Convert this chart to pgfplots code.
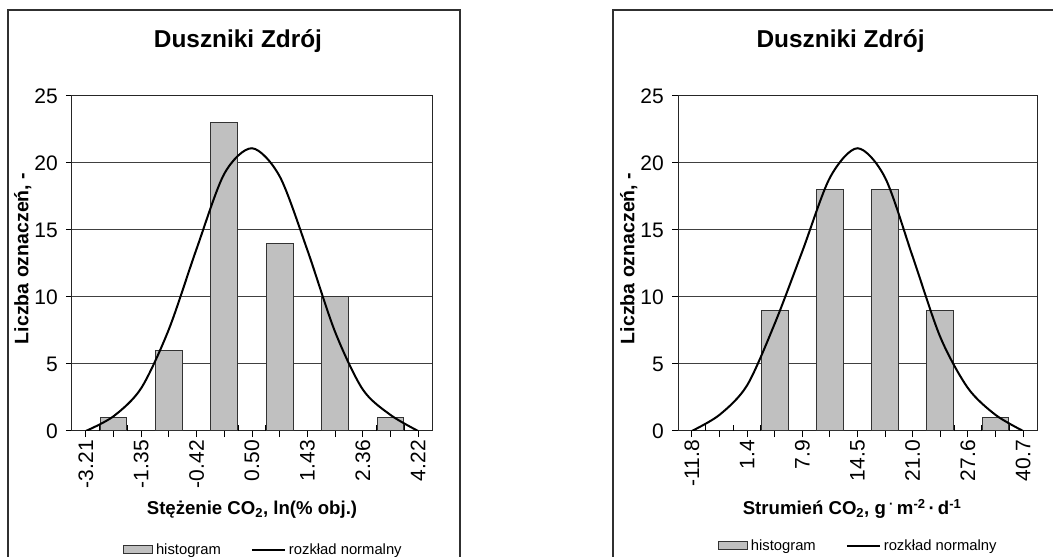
\documentclass[border=0pt]{standalone}
\usepackage{fontspec}
\setmainfont{Liberation Sans}
\usepackage{pgfplots}
\usepackage{pgfplotstable}
\pgfplotsset{compat=1.18}
\definecolor{barfill}{HTML}{C0C0C0}
\definecolor{framec}{HTML}{303030}
\newcommand\ticksize{\fontsize{21}{24}\selectfont}
\newcommand\labsize{\fontsize{18.6}{22}\selectfont\bfseries}
\newcommand\ylabsize{\fontsize{19.5}{23}\selectfont\bfseries}
\newcommand\titsize{\fontsize{24.4}{28}\selectfont\bfseries}
\newcommand\legsize{\fontsize{14.8}{17}\selectfont}

\pgfplotstableread{
pos val
1 1
3 6
5 23
7 14
9 10
11 1
}\histA
\pgfplotstableread{
pos val
0 0
1 1.1
2 3.2
3 7.6
4 13.6
5 19.2
6 21.1
7 19.0
8 13.5
9 7.4
10 3.1
11 1.2
12 0
}\normA
\pgfplotstableread{
pos val
3 9
5 18
7 18
9 9
11 1
}\histB
\pgfplotstableread{
pos val
0 0
1 1.2
2 3.4
3 8.0
4 13.4
5 18.9
6 21.1
7 18.9
8 13.0
9 7.0
10 3.2
11 1.2
12 0
}\normB

\pgfplotsset{
  hist/.style={
    scale only axis, height=335pt,
    xmin=-0.5, xmax=12.5, ymin=0, ymax=25,
    xtick={0,1,...,12}, ytick={0,5,...,25}, yticklabels={0,5,10,15,20,25},
    tick pos=left, tick align=outside, major tick length=6pt,
    extra x ticks={0.5,1.5,2.5,3.5,4.5,5.5,6.5,7.5,8.5,9.5,10.5,11.5},
    extra x tick labels={},
    extra x tick style={tick align=inside, major tick length=6pt},
    ymajorgrids, grid style={draw=black!75, line width=1pt},
    axis line style={draw=black!85, line width=1pt},
    every tick/.style={black, line width=1pt},
    xticklabel style={rotate=90, anchor=east, inner sep=0pt, font=\ticksize},
    yticklabel style={anchor=east, inner sep=0pt, font=\ticksize},
    xticklabel shift=3pt, yticklabel shift=8pt,
    xlabel style={at={(axis description cs:0.5,-0.25)}, anchor=base, font=\labsize},
    ylabel style={at={(axis description cs:-0.137,0.515)}, anchor=center, font=\ylabsize},
    title style={anchor=base, font=\titsize},
    ylabel={Liczba oznaczeń, -},
    title={Duszniki Zdrój},
    legend style={draw=none, fill=none, anchor=west, legend columns=2,
      inner sep=0pt, outer sep=0pt, font=\legsize,
      nodes={inner xsep=3pt, inner ysep=0pt},
      /tikz/every even column/.append style={column sep=27pt}},
  },
  barsty/.style={ybar, bar width=0.97, bar shift=0pt, fill=barfill, draw=black!80, line width=1pt,
    legend image code/.code={\draw[fill=barfill, draw=black!80, line width=1pt] (0pt,-4pt) rectangle (29pt,4pt);}},
  linesty/.style={smooth, black, line width=2pt, mark=none,
    legend image code/.code={\draw[black, line width=2pt] (0pt,0pt) -- (33pt,0pt);}},
}

\begin{document}
\begin{tikzpicture}[x=1pt,y=1pt]
\path[use as bounding box] (0pt,0pt) rectangle (1053pt,557pt);
\clip (0pt,0pt) rectangle (1053pt,557pt);
\fill[white] (0pt,0pt) rectangle (1053pt,557pt);
\draw[framec, line width=1.6pt] (8pt,-10pt) -- (8pt,547pt) -- (460pt,547pt) -- (460pt,-10pt);
\draw[framec, line width=1.6pt] (613pt,-10pt) -- (613pt,547pt) -- (1070pt,547pt);

\begin{axis}[hist, at={(72pt,126pt)}, anchor=south west, width=360pt,
  xticklabels={-3.21,,-1.35,,-0.42,,0.50,,1.43,,2.36,,4.22},
  xlabel={Stężenie CO\textsubscript{2}, ln(\% obj.)},
  title style={at={(axis description cs:0.461,1.128)}},
  legend style={at={(axis description cs:0.1417,-0.354)}}]
\addplot[barsty] table[x=pos,y=val] {\histA};
\addlegendentry{histogram}
\addplot[linesty] table[x=pos,y=val] {\normA};
\addlegendentry{rozkład normalny}
\end{axis}

\begin{axis}[hist, at={(678pt,126pt)}, anchor=south west, width=359pt,
  xticklabels={-11.8,,1.4,,7.9,,14.5,,21.0,,27.6,,40.7},
  xlabel={Strumień CO\textsubscript{2}, g\,\textsuperscript{·}\,m\textsuperscript{-2}\,·\,d\textsuperscript{-1}},
  xlabel style={at={(axis description cs:0.485,-0.25)}},
  title style={at={(axis description cs:0.453,1.128)}},
  legend style={at={(axis description cs:0.111,-0.343)}}]
\addplot[barsty] table[x=pos,y=val] {\histB};
\addlegendentry{histogram}
\addplot[linesty] table[x=pos,y=val] {\normB};
\addlegendentry{rozkład normalny}
\end{axis}
\end{tikzpicture}
\end{document}
